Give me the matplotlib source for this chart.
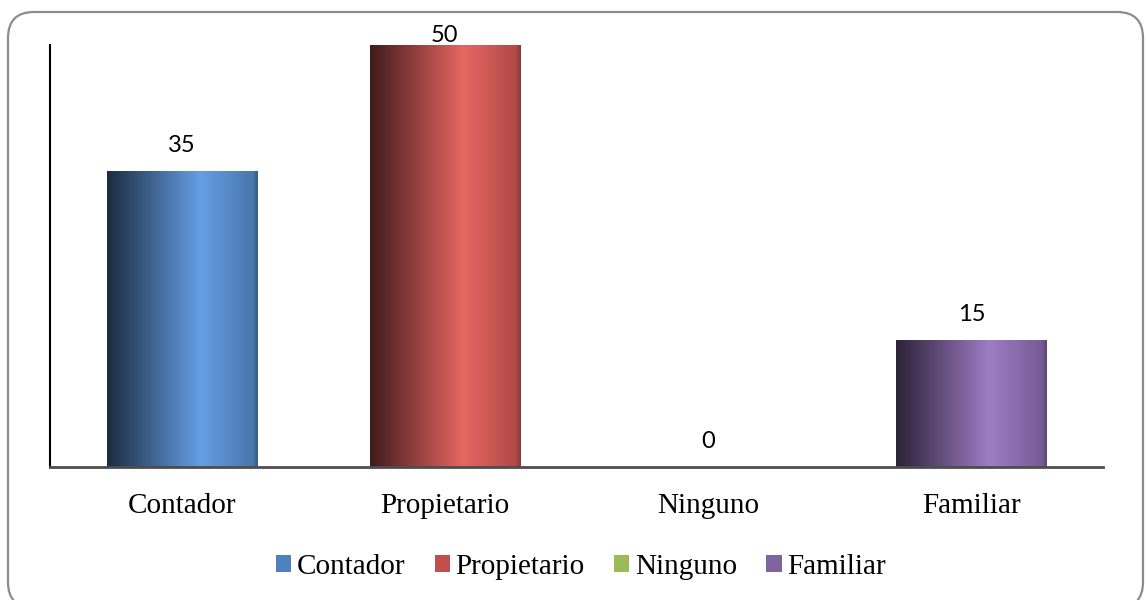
import numpy as np
import matplotlib
matplotlib.use("Agg")
import matplotlib.pyplot as plt
from matplotlib.patches import FancyBboxPatch, Patch
from matplotlib.colors import to_rgb

categories = ["Contador", "Propietario", "Ninguno", "Familiar"]
values = [35, 50, 0, 15]
colors = ["#4F81BD", "#C0504D", "#9BBB59", "#8064A2"]


def bar_gradient(base):
    # office style shading: dark left edge, highlight around 60%, base colour at right
    base = np.array(to_rgb(base))
    dark = base * 0.34
    light = np.clip(base * 1.15 + 0.04, 0, 1)
    t = np.linspace(0, 1, 256)
    img = np.zeros((1, 256, 3))
    for c in range(3):
        img[0, :, c] = np.interp(t, [0, 0.62, 0.97, 1.0],
                                 [dark[c], light[c], base[c] * 0.92, base[c] * 0.7])
    return img


fig = plt.figure(figsize=(11.47, 6), dpi=100)

# rounded outer frame
frame = FancyBboxPatch((0.08, -0.08), 11.35, 5.96,
                       boxstyle="round,pad=0,rounding_size=0.26",
                       transform=fig.dpi_scale_trans, facecolor="none",
                       edgecolor="#8c8c8c", linewidth=1.6, zorder=-1)
fig.patches.append(frame)

ax = fig.add_axes([50 / 1147, 133 / 600, (1103 - 50) / 1147, (467 - 45) / 600])
ax.patch.set_alpha(0)

x = np.arange(len(categories))
bars = ax.bar(x, values, width=0.57, color="none", edgecolor="none")

for bar, col in zip(bars, colors):
    h = bar.get_height()
    if h <= 0:
        continue
    x0 = bar.get_x()
    ax.imshow(bar_gradient(col), extent=[x0, x0 + bar.get_width(), 0, h],
              aspect="auto", interpolation="bilinear", zorder=2)

ax.set_xlim(-0.5, 3.5)
ax.set_ylim(0, 50)

for i, v in enumerate(values):
    ax.text(i, min(v + 2.3, 50.4), str(v), ha="center", va="baseline",
            fontsize=17, family="Lato", color="black", clip_on=False)

ax.set_xticks(x, categories, fontsize=21, family="Liberation Serif")
ax.tick_params(axis="x", length=0, pad=19)
ax.set_yticks([])

ax.spines["top"].set_visible(False)
ax.spines["right"].set_visible(False)
ax.spines["left"].set_color("black")
ax.spines["left"].set_linewidth(1.5)
ax.spines["bottom"].set_color("#4d4d4d")
ax.spines["bottom"].set_linewidth(2)

handles = [Patch(facecolor=c, edgecolor="none") for c in colors]
fig.legend(handles, categories, loc="center", bbox_to_anchor=(581 / 1147, 1 - 567 / 600),
           ncol=4, frameon=False, prop={"family": "Liberation Serif", "size": 21},
           handlelength=0.52, handleheight=0.52, handletextpad=0.2, columnspacing=1.0)

fig.savefig("out.png", dpi=100, facecolor="white")
